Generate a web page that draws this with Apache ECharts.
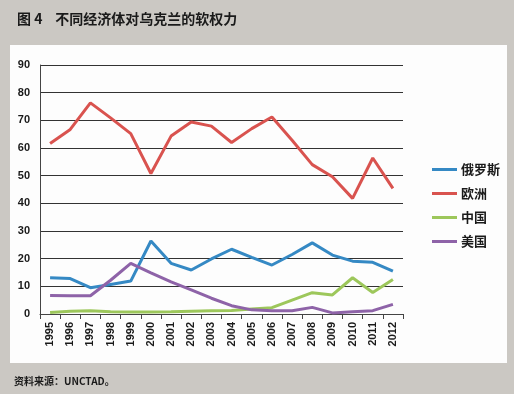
<!DOCTYPE html>
<html><head><meta charset="utf-8">
<script src="https://cdn.jsdelivr.net/npm/echarts@6/dist/echarts.min.js"></script>
<style>html,body{margin:0;padding:0;background:#cbc8c3;}#c{width:514px;height:394px;}</style>
</head><body><div id="c"></div>
<script>
const years = ['1995','1996','1997','1998','1999','2000','2001','2002','2003','2004','2005','2006','2007','2008','2009','2010','2011','2012'];
const russia = [13.1,12.8,9.5,10.7,11.9,26.4,18.3,15.9,19.9,23.4,20.5,17.7,21.5,25.7,21.3,19.1,18.7,15.5];
const europe = [61.6,66.7,76.3,70.9,65.2,50.8,64.3,69.4,67.9,62.0,67.0,71.2,62.8,54.0,49.6,41.8,56.4,45.4];
const china = [0.5,1.0,1.2,0.8,0.7,0.7,0.8,1.0,1.2,1.3,1.8,2.3,5.0,7.7,6.9,13.1,7.8,12.5];
const usa = [6.7,6.6,6.6,12.2,18.3,14.9,11.6,8.7,5.7,3.0,1.5,1.2,1.2,2.4,0.4,0.8,1.2,3.5];
const seriesNames = ['俄罗斯','欧洲','中国','美国'];
const colors = ['#3589c4','#d9534f','#9dc75b','#8e63a8'];
const yTicks = {min:0, max:90, interval:10};

const chart = echarts.init(document.getElementById('c'));
const font = '"Liberation Sans", Arial, sans-serif';
const cjk = '"Noto Sans CJK SC", sans-serif';
chart.setOption({
  animation:false,
  backgroundColor:'#cbc8c3',
  graphic:[
    {type:'rect', left:10, top:45, shape:{width:497, height:318}, style:{fill:'#fdfdfd'}, z:-10},
    {type:'text', left:14, top:376, style:{text:'资料来源：UNCTAD。', font:'bold 10px '+cjk, fill:'#1a1a1a'}}
  ],
  title:{text:'图 4    不同经济体对乌克兰的软权力', left:12, top:7,
    textStyle:{fontFamily:cjk, fontSize:14, fontWeight:'bold', color:'#1a1a1a'}},
  legend:{orient:'vertical', left:427, top:157, icon:'rect', itemWidth:25, itemHeight:3, itemGap:9,
    data:seriesNames,
    textStyle:{fontFamily:cjk, fontSize:13, fontWeight:'bold', color:'#1a1a1a', lineHeight:15, padding:[0,0,0,-1]}},
  grid:{left:40, right:111, top:65, bottom:80},
  xAxis:{type:'category', data:years, boundaryGap:true,
    axisLine:{lineStyle:{color:'#444', width:1}},
    axisTick:{show:true, interval:0, length:5, lineStyle:{color:'#444'}},
    axisLabel:{rotate:90, interval:0, fontFamily:font, fontSize:11, fontWeight:'bold', color:'#1a1a1a', margin:8}},
  yAxis:{type:'value', min:yTicks.min, max:yTicks.max, interval:yTicks.interval,
    axisLine:{show:true, lineStyle:{color:'#444'}},
    axisTick:{show:false},
    splitLine:{lineStyle:{color:'#333', width:1}},
    axisLabel:{fontFamily:font, fontSize:11, fontWeight:'bold', color:'#1a1a1a', margin:10}},
  series:[russia,europe,china,usa].map((d,i)=>({
    name:seriesNames[i], type:'line', data:d, symbol:'none',
    lineStyle:{width:3, color:colors[i]}, itemStyle:{color:colors[i]}
  }))
});
</script></body></html>
